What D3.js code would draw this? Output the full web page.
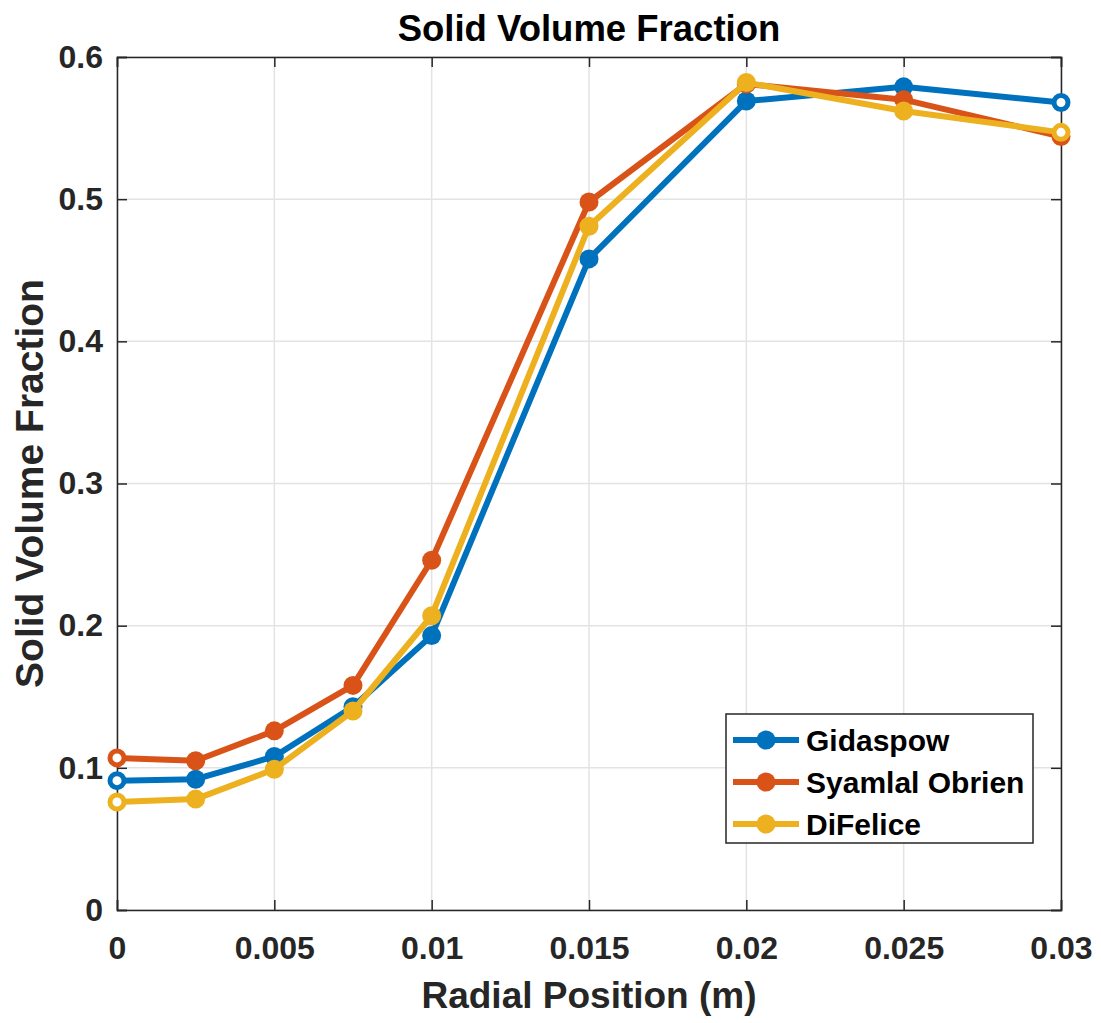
<!DOCTYPE html>
<html>
<head>
<meta charset="utf-8">
<script src="https://cdn.jsdelivr.net/npm/d3@7"></script>
<style>
  body { margin: 0; background: #fff; }
  text { font-family: "Liberation Sans", Arial, sans-serif; font-weight: bold; fill: #262626; }
</style>
</head>
<body>
<div id="chart"></div>
<script>
// radial positions (m)
const positions = [0, 0.0025, 0.005, 0.0075, 0.01, 0.015, 0.02, 0.025, 0.03];
const gidaspow = [0.091, 0.092, 0.108, 0.143, 0.193, 0.458, 0.569, 0.579, 0.568];
const syamlal = [0.107, 0.105, 0.126, 0.158, 0.246, 0.498, 0.581, 0.570, 0.544];
const difelice = [0.076, 0.078, 0.099, 0.140, 0.207, 0.481, 0.582, 0.562, 0.547];
const seriesNames = ["Gidaspow", "Syamlal Obrien", "DiFelice"];
const seriesColors = ["#0072BD", "#D95319", "#EDB120"];
const xTicks = [0, 0.005, 0.01, 0.015, 0.02, 0.025, 0.03];
const yTicks = [0, 0.1, 0.2, 0.3, 0.4, 0.5, 0.6];

const width = 1101,
  height = 1023,
  margin = { top: 57, right: 40, bottom: 113, left: 117 };

const svg = d3
  .select("#chart")
  .append("svg")
  .attr("width", width)
  .attr("height", height);

const x = d3
  .scaleLinear()
  .domain([0, 0.03])
  .range([margin.left, width - margin.right]);

const y = d3
  .scaleLinear()
  .domain([0, 0.6])
  .range([height - margin.bottom, margin.top]);

// grid
svg
  .append("g")
  .selectAll("line")
  .data(xTicks)
  .join("line")
  .attr("x1", (d) => x(d))
  .attr("x2", (d) => x(d))
  .attr("y1", y(0))
  .attr("y2", y(0.6))
  .style("stroke", "#e3e3e3")
  .style("stroke-width", 1.5);

svg
  .append("g")
  .selectAll("line")
  .data(yTicks)
  .join("line")
  .attr("x1", x(0))
  .attr("x2", x(0.03))
  .attr("y1", (d) => y(d))
  .attr("y2", (d) => y(d))
  .style("stroke", "#e3e3e3")
  .style("stroke-width", 1.5);

// axes (ticks inside, MATLAB style)
const tickFmt = (d) => (d === 0 ? "0" : String(+d.toFixed(4)));

const xAxis = svg
  .append("g")
  .attr("transform", `translate(0,${y(0)})`)
  .call(d3.axisBottom(x).tickValues(xTicks).tickSize(-10).tickPadding(49).tickFormat(tickFmt));
const yAxis = svg
  .append("g")
  .attr("transform", `translate(${x(0)},0)`)
  .call(d3.axisLeft(y).tickValues(yTicks).tickSize(-10).tickPadding(14).tickFormat(tickFmt));
const xTop = svg
  .append("g")
  .attr("transform", `translate(0,${y(0.6)})`)
  .call(d3.axisTop(x).tickValues(xTicks).tickSize(-10).tickFormat(""));
const yRight = svg
  .append("g")
  .attr("transform", `translate(${x(0.03)},0)`)
  .call(d3.axisRight(y).tickValues(yTicks).tickSize(-10).tickFormat(""));

[xAxis, yAxis, xTop, yRight].forEach((g) => {
  g.select(".domain").style("stroke", "#262626").style("stroke-width", 1.5);
  g.selectAll(".tick line").style("stroke", "#262626").style("stroke-width", 1.5);
  g.selectAll(".tick text")
    .style("font-size", "32px")
    .style("font-family", "'Liberation Sans', Arial, sans-serif")
    .style("font-weight", "bold")
    .style("fill", "#262626");
});
xAxis.selectAll(".tick text").attr("dy", "0");

// series
const allSeries = [gidaspow, syamlal, difelice].map((vals, i) => ({
  name: seriesNames[i],
  color: seriesColors[i],
  points: vals.map((v, j) => ({ x: positions[j], y: v })),
}));

const line = d3
  .line()
  .x((d) => x(d.x))
  .y((d) => y(d.y));

allSeries.forEach((s) => {
  const g = svg.append("g");
  g.append("path")
    .datum(s.points)
    .attr("d", line)
    .style("fill", "none")
    .style("stroke", s.color)
    .style("stroke-width", 6)
    .style("stroke-linejoin", "round");
  const isEnd = (i) => i === 0 || i === s.points.length - 1;
  g.selectAll("circle")
    .data(s.points)
    .join("circle")
    .attr("cx", (d) => x(d.x))
    .attr("cy", (d) => y(d.y))
    .attr("r", (d, i) => (isEnd(i) ? 7 : 9.5))
    .style("fill", (d, i) => (isEnd(i) ? "#fff" : s.color))
    .style("stroke", s.color)
    .style("stroke-width", (d, i) => (isEnd(i) ? 5 : 0));
});

// title and axis labels
svg
  .append("text")
  .attr("x", (x(0) + x(0.03)) / 2)
  .attr("y", 41)
  .attr("text-anchor", "middle")
  .style("font-size", "36.5px")
  .style("fill", "#000")
  .text("Solid Volume Fraction");

svg
  .append("text")
  .attr("x", (x(0) + x(0.03)) / 2)
  .attr("y", 1008)
  .attr("text-anchor", "middle")
  .style("font-size", "37px")
  .text("Radial Position (m)");

svg
  .append("text")
  .attr("transform", `translate(43,${(y(0) + y(0.6)) / 2}) rotate(-90)`)
  .attr("text-anchor", "middle")
  .style("font-size", "39px")
  .text("Solid Volume Fraction");

// legend
const legend = svg.append("g").attr("transform", "translate(726,714)");
legend
  .append("rect")
  .attr("width", 307)
  .attr("height", 129)
  .style("fill", "#fff")
  .style("stroke", "#262626")
  .style("stroke-width", 1.5);

const rows = legend
  .selectAll(".row")
  .data(allSeries)
  .join("g")
  .attr("transform", (d, i) => `translate(0,${26 + i * 42})`);
rows
  .append("line")
  .attr("x1", 7)
  .attr("x2", 73)
  .style("stroke", (d) => d.color)
  .style("stroke-width", 6);
rows
  .append("circle")
  .attr("cx", 40)
  .attr("r", 9.5)
  .style("fill", (d) => d.color);
rows
  .append("text")
  .attr("x", 80)
  .attr("dy", "0.35em")
  .style("font-size", "30px")
  .style("fill", "#000")
  .text((d) => d.name);
</script>
</body>
</html>
